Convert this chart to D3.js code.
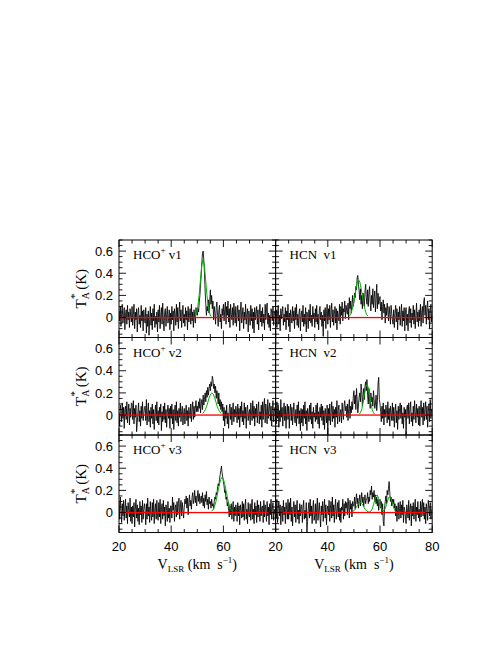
<!DOCTYPE html>
<html><head><meta charset="utf-8">
<script src="https://d3js.org/d3.v7.min.js"></script>
<style>html,body{margin:0;padding:0;background:#fff;}svg{display:block;}</style>
</head><body>
<script>
// ---- data (T_A* in units of 0.01 K, channels 20..80 km/s step 0.25) ----
const molecules = ["HCO+", "HCN"];
const positions = ["v1", "v2", "v3"];
const velStart = 20, velStep = 0.25;
const xTicksLeft = [20, 40, 60];
const xTicksRight = [20, 40, 60, 80];
const yTicks = [0, 0.2, 0.4, 0.6];

const hcoV1 = [
 6,-3,10,-8,4,12,-5,2,9,-11,3,7,-6,11,-2,5,-9,8,1,-4,
 10,-7,3,12,-10,5,-2,8,-13,4,9,-6,2,-9,11,-3,6,-12,7,-1,
 -5,9,-14,3,-8,6,-16,-2,10,-7,4,-11,8,-3,12,-9,1,-6,5,-13,
 7,-4,11,-10,2,9,-6,13,-3,-12,5,8,-8,3,10,-5,-1,7,-11,4,
 -6,10,-2,6,-12,8,3,-7,12,-4,9,-10,4,14,-3,7,-9,1,11,-5,
 3,-8,9,-2,6,-11,10,-4,2,8,-6,12,-3,5,-9,7,0,-5,9,4,
 2,8,5,14,20,30,38,50,58,60,52,40,24,12,2,10,6,16,4,14,
 25,12,20,8,15,-2,10,4,-6,9,14,2,-8,6,11,-4,3,-10,8,2,
 12,-3,7,14,-6,10,2,15,-4,8,-9,12,3,-2,9,-7,13,5,-5,10,
 -8,4,11,-3,7,-12,6,14,-5,2,9,-10,5,-2,12,-6,3,8,-13,6,
 1,-7,11,-3,8,-10,5,-14,9,-2,4,10,-6,7,-11,3,12,-4,6,-8,
 9,-5,3,-11,12,-2,7,13,-6,4,-9,2,-12,8,5,-3,10,-7,2,6,
 4];
const hcnV1 = [
 -3,7,-9,4,11,-6,2,-12,8,-1,5,10,-7,3,-4,9,-11,6,-2,12,
 -8,4,-13,7,1,-5,10,-3,6,-10,9,-2,12,-7,3,-9,5,8,-12,2,
 6,-4,11,-8,3,-6,9,-13,5,1,-10,7,-3,12,-5,2,-8,10,-1,4,
 -9,8,-4,11,-6,3,-11,6,10,-2,5,-8,2,-17,7,-3,9,-10,4,12,
 -6,8,-2,11,-9,5,13,-4,7,-7,3,10,-5,8,-11,6,1,-3,12,-6,
 10,2,14,-3,8,5,15,-1,11,6,3,13,-2,18,8,15,4,12,20,10,
 14,22,18,28,25,36,38,30,24,16,26,12,20,8,22,14,10,24,30,18,
 12,25,10,22,28,14,6,20,12,26,9,18,24,5,17,30,8,22,12,16,
 19,6,14,-2,10,16,4,12,-5,9,2,13,6,-3,10,3,-6,11,4,-2,
 -6,7,-9,4,11,-4,8,-11,5,-2,10,-7,3,12,-8,6,-3,9,-12,5,
 9,-7,3,-12,6,10,-5,8,-9,4,-2,11,-6,7,-10,2,13,-4,5,-8,
 7,-3,12,-8,5,10,-5,14,18,2,11,-6,9,15,-2,8,-10,6,12,-4,
 3];
const hcoV2 = [
 2,-10,9,4,-6,11,-3,7,-12,5,8,-4,12,-7,3,10,-9,6,-2,11,
 10,-4,13,-8,6,-2,9,-15,-7,3,11,-6,4,-10,8,-3,12,-5,1,7,
 8,-5,14,-9,2,11,-6,4,-11,7,-3,10,-8,5,-13,2,9,-5,12,-7,
 4,-9,7,-2,10,-14,3,-6,8,-4,11,-7,5,-11,2,9,-3,6,-12,8,
 -3,10,-8,5,-13,2,9,-5,12,-7,4,-10,6,-2,11,-6,3,8,-9,1,
 6,-8,2,9,-5,4,-10,7,1,-3,10,-6,5,12,-4,8,-2,6,13,3,
 8,3,12,6,15,2,10,14,5,18,9,14,20,12,22,16,25,18,24,28,
 22,30,26,35,32,24,28,20,26,15,22,18,10,20,8,14,5,12,3,10,
 -5,7,-10,4,-3,9,-8,2,-12,6,10,-4,7,-9,3,11,-6,5,-2,8,
 3,-7,10,-4,6,-11,8,-2,12,-6,4,-9,11,-3,7,-12,5,9,-5,2,
 5,-9,11,2,-5,13,-3,8,-10,6,-2,10,-7,4,12,-8,3,-4,9,-11,
 12,-4,9,15,-7,10,2,-8,14,-3,6,11,-5,8,-10,4,13,-6,3,7,
 2];
const hcnV2 = [
 6,-8,12,-3,9,-11,4,-6,14,-2,7,-10,3,11,-5,8,-12,2,10,-4,
 8,-12,3,10,-5,7,-9,2,11,-4,-7,5,-10,9,-3,12,-8,4,-14,6,
 -7,5,-10,9,-3,12,-8,4,-14,6,2,-6,9,-4,11,-8,3,-12,7,-2,
 2,-6,9,-4,11,-8,3,-12,7,-2,10,-5,8,-9,4,-13,6,1,-7,9,
 -18,6,-5,10,-9,3,12,-6,8,-3,5,-11,7,-2,13,-8,4,9,-6,2,
 5,-7,11,2,-4,9,13,4,8,-2,10,-5,6,14,-3,8,2,12,5,16,
 22,10,18,5,24,14,2,9,16,20,12,28,22,8,18,24,14,26,30,22,
 32,18,10,24,15,6,20,12,16,8,22,14,6,10,18,4,12,28,34,14,
 10,3,-6,8,-3,11,-9,5,-2,9,4,-7,12,-4,6,-10,8,2,-5,11,
 -5,7,-11,3,10,-7,4,-13,8,-4,6,11,-3,9,-8,2,-12,7,-2,5,
 -18,6,9,-3,11,-8,5,12,-6,2,-10,8,-4,13,3,-7,10,-2,6,-9,
 8,-10,4,13,-2,7,-9,11,-5,6,12,-4,8,-11,3,10,-6,14,-3,5,
 3];
const hcoV3 = [
 10,-6,14,2,-9,8,-3,11,-7,4,12,-5,6,-10,9,2,-4,13,-8,5,
 -10,6,-4,9,-13,3,12,-5,7,-8,4,-11,10,-2,6,-9,11,-6,3,8,
 2,-11,8,-6,13,-3,5,-9,10,-2,-7,9,-4,12,-10,3,8,-6,11,-3,
 -7,9,-4,12,-10,3,8,-6,11,-3,5,-12,7,2,-8,10,-5,4,-9,6,
 6,-5,14,2,9,-8,4,7,-4,10,-2,8,13,-6,5,11,-3,9,2,-5,
 5,12,8,15,4,13,-2,9,16,6,11,3,14,18,8,12,20,9,15,6,
 14,20,10,17,8,12,15,9,18,6,13,4,16,10,19,7,12,3,14,8,
 10,4,12,6,8,3,10,14,12,18,16,22,26,24,30,34,38,42,36,32,
 28,24,18,20,12,14,6,9,2,-4,6,-2,8,-6,3,10,-8,5,-3,7,
 3,-8,9,-3,6,-11,7,2,-5,10,-4,8,-7,5,12,-6,3,-10,9,-2,
 -4,8,-7,5,12,-6,3,-10,9,-2,6,-9,11,-4,7,2,-8,10,-3,5,
 6,-9,11,-4,7,2,-8,10,-3,5,-11,8,-2,12,-6,4,9,-7,3,-1,
 5];
const hcnV3 = [
 8,-5,12,-9,4,10,-3,7,-11,2,6,-8,11,-2,5,-10,9,3,-6,12,
 -6,9,-2,13,-8,5,-12,3,10,-4,7,-9,4,11,-6,2,-10,8,-3,6,
 7,-9,4,11,-6,2,-5,9,-18,-8,3,9,-5,12,-3,6,-10,4,11,-7,
 -3,8,-10,5,13,-7,2,9,-4,-13,6,-2,10,-8,4,12,-5,7,-11,3,
 6,-2,11,-8,4,10,-5,14,-3,7,-9,5,12,-6,2,9,-4,11,-7,4,
 -9,5,2,12,-6,8,-3,10,4,9,-2,13,6,-5,11,3,8,-4,10,6,
 6,14,3,11,17,8,13,4,10,16,6,12,18,9,14,5,11,16,8,12,
 12,18,8,14,10,20,16,24,12,18,14,20,10,16,8,14,6,12,2,9,
 12,4,10,-2,8,-8,-12,4,10,15,8,20,16,22,28,18,10,14,6,12,
 8,12,4,8,-3,6,-8,3,9,-6,4,10,-5,7,-2,11,-9,5,2,-4,
 -10,7,2,-5,11,-7,4,8,-12,6,-3,9,-6,3,12,-8,5,-2,10,-5,
 3,-8,10,-4,7,12,-3,9,-6,5,-10,8,2,-7,11,4,-3,9,-6,2,
 4];

// Gaussian fit curves as [velocity, T_A* (K)] pairs
const fitHcoV1 = [[49.2,0.01],[49.7,0.04],[50.2,0.10],[50.7,0.20],[51.2,0.34],[51.7,0.47],[52.2,0.52],[52.7,0.47],[53.2,0.34],[53.7,0.20],[54.2,0.10],[54.7,0.04],[55.2,0.01]];
const fitHcnV1 = [[48.3,0.015],[48.8,0.03],[49.3,0.07],[49.8,0.12],[50.3,0.19],[50.8,0.26],[51.3,0.32],[51.8,0.34],[52.3,0.32],[52.8,0.26],[53.3,0.19],[53.8,0.12],[54.3,0.07],[54.8,0.03],[55.3,0.015]];
const fitHcoV2 = [[52.1,0.013],[52.6,0.03],[53.1,0.05],[53.6,0.08],[54.1,0.12],[54.6,0.16],[55.1,0.19],[55.6,0.20],[56.1,0.19],[56.6,0.16],[57.1,0.12],[57.6,0.08],[58.1,0.05],[58.6,0.03],[59.1,0.013]];
const fitHcnV2 = [[52,0.007],[52.5,0.02],[53,0.05],[53.5,0.11],[54,0.18],[54.5,0.25],[55,0.275],[55.5,0.25],[56,0.18],[56.5,0.11],[57,0.05],[57.5,0.02],[58,0.007]];
const fitHcoV3 = [[55.5,0.012],[56,0.025],[56.5,0.05],[57,0.086],[57.5,0.14],[58,0.20],[58.5,0.26],[59,0.30],[59.5,0.32],[60,0.30],[60.5,0.26],[61,0.20],[61.5,0.14],[62,0.086],[62.5,0.05],[63,0.025],[63.5,0.012]];
const fitHcnV3 = [[49.5,0.007],[50,0.016],[50.5,0.031],[51,0.05],[51.5,0.071],[52,0.086],[52.5,0.09],[53,0.081],[53.5,0.063],[54,0.042],[54.5,0.024],[55,0.012],[55.5,0.006],[56,0.005],[56.5,0.011],[57,0.032],[57.5,0.069],[58,0.116],[58.5,0.153],[59,0.157],[59.5,0.125],[60,0.078],[60.5,0.039],[61,0.018],[61.5,0.017],[62,0.035],[62.5,0.071],[63,0.114],[63.5,0.142],[64,0.139],[64.5,0.105],[65,0.062],[65.5,0.029],[66,0.01],[66.5,0.003]];

const spectra = [[hcoV1, hcnV1], [hcoV2, hcnV2], [hcoV3, hcnV3]];
const fits = [[fitHcoV1, fitHcnV1], [fitHcoV2, fitHcnV2], [fitHcoV3, fitHcnV3]];

// ---- layout ----
const W = 498, H = 645;
const x0 = 119, colW = 156.6, y0 = 240, rowH = 97.5;
const svg = d3.select("body").append("svg").attr("width", W).attr("height", H);

const x = d3.scaleLinear().domain([20, 80]).range([0, colW]);
const y = d3.scaleLinear().domain([-0.18, 0.70]).range([rowH, 0]);
const serif = "'Liberation Serif','Times New Roman',serif";
const sans = "'Liberation Sans',Arial,sans-serif";

const defs = svg.append("defs");
defs.append("clipPath").attr("id", "clip").append("rect").attr("width", colW).attr("height", rowH);

const line = d3.line().x(d => x(d[0])).y(d => y(d[1]));

for (let r = 0; r < 3; r++) {
  for (let c = 0; c < 2; c++) {
    const g = svg.append("g").attr("transform", `translate(${x0 + c*colW},${y0 + r*rowH})`);
    const pts = spectra[r][c].map((v, i) => [velStart + i*velStep, v/100]);
    const plot = g.append("g").attr("clip-path", "url(#clip)");
    plot.append("path").attr("d", line(pts)).attr("fill", "none")
      .attr("stroke", "#000").attr("stroke-width", 0.85);
    plot.append("path").attr("d", line(fits[r][c])).attr("fill", "none")
      .attr("stroke", "#00b000").attr("stroke-width", 1);
    g.append("rect").attr("x", 0).attr("y", y(0) - 0.65).attr("width", colW).attr("height", 1.3)
      .attr("fill", "#ff0000");

    // frame
    g.append("rect").attr("width", colW).attr("height", rowH).attr("fill", "none")
      .attr("stroke", "#000").attr("stroke-width", 1);

    // ticks (inward, all four sides)
    const tk = g.append("g").attr("stroke", "#000").attr("stroke-width", 0.9);
    const xMinor = d3.range(20, 80.1, 5);
    xMinor.forEach(v => {
      const L = (v % 20 === 0) ? 7 : 3.5;
      tk.append("line").attr("x1", x(v)).attr("x2", x(v)).attr("y1", rowH).attr("y2", rowH - L);
      tk.append("line").attr("x1", x(v)).attr("x2", x(v)).attr("y1", 0).attr("y2", L);
    });
    const yMinor = d3.range(-0.15, 0.701, 0.05).map(v => Math.round(v*100)/100);
    yMinor.forEach(v => {
      const L = (Math.abs(Math.round(v*100)) % 20 === 0) ? 7 : 3.5;
      tk.append("line").attr("x1", 0).attr("x2", L).attr("y1", y(v)).attr("y2", y(v));
      tk.append("line").attr("x1", colW).attr("x2", colW - L).attr("y1", y(v)).attr("y2", y(v));
    });

    // panel label
    const lab = g.append("text").attr("x", 14).attr("y", 19)
      .attr("font-family", serif).attr("font-size", 13).attr("fill", "#000");
    if (molecules[c] === "HCO+") {
      lab.append("tspan").text("HCO");
      lab.append("tspan").attr("font-size", 9).attr("dy", -6).text("+");
      lab.append("tspan").attr("dy", 6).text("\u00a0" + positions[r]);
    } else {
      lab.append("tspan").text("HCN\u00a0\u00a0" + positions[r]);
    }

    // y tick labels & title (left column)
    if (c === 0) {
      yTicks.forEach(v => {
        g.append("text").attr("x", -6).attr("y", y(v)).attr("dy", "0.36em")
          .attr("text-anchor", "end").attr("font-family", sans).attr("font-size", 13)
          .text(v === 0 ? "0" : d3.format(".1f")(v));
      });
      const yt = svg.append("text")
        .attr("transform", `translate(86,${y0 + r*rowH + rowH/2}) rotate(-90)`)
        .attr("text-anchor", "middle").attr("font-family", serif).attr("font-size", 15);
      yt.append("tspan").text("T");
      yt.append("tspan").attr("font-size", 10).attr("dy", 3).text("A");
      yt.append("tspan").attr("font-size", 11).attr("dx", -7).attr("dy", -11).text("*");
      yt.append("tspan").attr("dy", 8).text("\u00a0(K)");
    }
    // x tick labels & title (bottom row)
    if (r === 2) {
      (c === 0 ? xTicksLeft : xTicksRight).forEach(v => {
        g.append("text").attr("x", x(v)).attr("y", rowH + 18).attr("text-anchor", "middle")
          .attr("font-family", sans).attr("font-size", 13).text(v);
      });
      const xt = g.append("text").attr("x", colW/2).attr("y", rowH + 36.5)
        .attr("text-anchor", "middle").attr("font-family", serif).attr("font-size", 14);
      xt.append("tspan").text("V");
      xt.append("tspan").attr("font-size", 9).attr("dy", 3).text("LSR");
      xt.append("tspan").attr("dy", -3).text("\u00a0(km\u00a0\u00a0s");
      xt.append("tspan").attr("font-size", 9).attr("dy", -6).text("\u22121");
      xt.append("tspan").attr("dy", 6).text(")");
    }
  }
}
</script>
</body></html>
